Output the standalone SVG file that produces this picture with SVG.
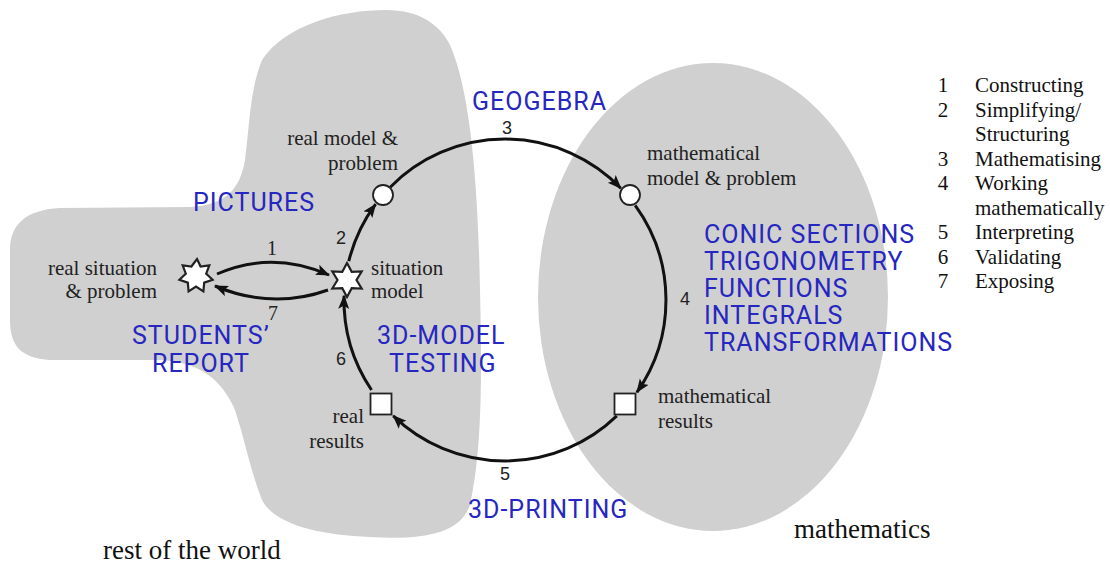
<svg xmlns="http://www.w3.org/2000/svg" width="1110" height="566" viewBox="0 0 1110 566">
<style>
.region{fill:#d0d0d0;stroke:none}
.lbl{font-family:"Liberation Serif","Times New Roman",serif;font-size:21px;fill:#222}
.big{font-family:"Liberation Serif","Times New Roman",serif;font-size:27px;fill:#111}
.blue{font-family:Roboto,"Liberation Sans",Arial,sans-serif;font-size:25px;letter-spacing:1px;fill:#2626c0}
.num{font-family:"Liberation Sans",Arial,sans-serif;font-size:18px;fill:#222}
.nums{font-family:"Liberation Serif","Times New Roman",serif;font-size:20px;fill:#222}
.leg{font-family:"Liberation Serif","Times New Roman",serif;font-size:21px;fill:#111}
.conn{fill:none;stroke:#111;stroke-width:3;marker-end:url(#ah)}
.node{fill:#fff;stroke:#222;stroke-width:1.8}
.starn{fill:#fff;stroke:#222;stroke-width:2.2;stroke-linejoin:miter}
</style>
<defs>
<marker id="ah" markerUnits="userSpaceOnUse" markerWidth="15" markerHeight="12" refX="13" refY="5.5" orient="auto">
<path d="M0,0 L14,5.5 L0,11 L3,5.5 z" fill="#111"/>
</marker>
<polygon id="star7" points="1,-17 4.6,-9.5 13.3,-10.6 10.2,-2.3 16.6,3.8 8.2,6.6 7.4,15.3 0,10.5 -7.4,15.3 -8.2,6.6 -16.6,3.8 -10.2,-2.3 -13.3,-10.6 -4.6,-9.5"/>
<polygon id="star6" points="0,-17 4.75,-8.2 14.7,-8.5 9.5,0 14.7,8.5 4.75,8.2 0,17 -4.75,8.2 -14.7,8.5 -9.5,0 -14.7,-8.5 -4.75,-8.2"/>
</defs>
<rect width="1110" height="566" fill="#fff"/>

<g id="rest-of-world">
<path class="region" d="M386 10 C420 10 440 25 450 45 C470 90 478 180 480 290 C482 380 482 450 470 505 C460 535 420 540 370 537 C320 535 275 525 262 500 C250 470 245 440 235 410 C222 380 200 362 160 360 L50 360 C20 358 10 345 10 320 L10 250 C10 225 25 210 60 208 L190 207 C225 205 240 190 245 160 C250 120 250 90 262 60 C285 25 340 10 386 10 Z"/>
<text class="big" x="103" y="559">rest of the world</text>
</g>
<g id="mathematics">
<ellipse class="region" cx="713" cy="297" rx="175" ry="234"/>
<text class="big" x="794" y="538">mathematics</text>
</g>

<g id="connectors">
<path class="conn" d="M217 274 Q272 250 329 275"/>
<path class="conn" d="M328 290 Q272 310 215 286"/>
<path class="conn" d="M348.8 261.1 A161 161 0 0 1 375.6 204.2"/>
<path class="conn" d="M390.2 187.2 A161 161 0 0 1 620.8 188.2"/>
<path class="conn" d="M635.2 205.4 A161 161 0 0 1 636.9 392.3"/>
<path class="conn" d="M616.8 415.8 A161 161 0 0 1 393.2 415.8"/>
<path class="conn" d="M371.5 390 A161 161 0 0 1 344.05 295.8"/>
<text class="nums" x="272" y="255" text-anchor="middle">1</text>
<text class="num" x="341" y="244" text-anchor="middle">2</text>
<text class="num" x="507" y="134" text-anchor="middle">3</text>
<text class="num" x="685" y="305" text-anchor="middle">4</text>
<text class="num" x="505" y="480" text-anchor="middle">5</text>
<text class="num" x="341" y="365" text-anchor="middle">6</text>
<text class="nums" x="273" y="320" text-anchor="middle">7</text>
</g>

<g id="real-situation">
<use href="#star7" class="starn" x="196" y="276"/>
<text class="lbl" x="157" y="275" text-anchor="end">real situation</text>
<text class="lbl" x="157" y="298" text-anchor="end">&amp; problem</text>
</g>
<g id="situation-model">
<use href="#star6" class="starn" x="347" y="280"/>
<text class="lbl" x="371" y="275">situation</text>
<text class="lbl" x="371" y="298">model</text>
</g>
<g id="real-model">
<circle class="node" cx="383" cy="195" r="10"/>
<text class="lbl" x="398" y="145" text-anchor="end">real model &amp;</text>
<text class="lbl" x="398" y="170" text-anchor="end">problem</text>
</g>
<g id="math-model">
<circle class="node" cx="630" cy="195" r="10"/>
<text class="lbl" x="647" y="160">mathematical</text>
<text class="lbl" x="647" y="185">model &amp; problem</text>
</g>
<g id="math-results">
<rect class="node" x="614.5" y="393.5" width="21" height="21"/>
<text class="lbl" x="658" y="403">mathematical</text>
<text class="lbl" x="658" y="428">results</text>
</g>
<g id="real-results">
<rect class="node" x="370.5" y="393.5" width="21" height="21"/>
<text class="lbl" x="364" y="423" text-anchor="end">real</text>
<text class="lbl" x="364" y="448" text-anchor="end">results</text>
</g>

<g id="blue-labels">
<text class="blue" x="472" y="110">GEOGEBRA</text>
<text class="blue" x="193" y="211">PICTURES</text>
<text class="blue" x="132" y="344">STUDENTS’</text>
<text class="blue" x="152" y="372">REPORT</text>
<text class="blue" x="377" y="344">3D-MODEL</text>
<text class="blue" x="389" y="372">TESTING</text>
<text class="blue" x="468" y="518">3D-PRINTING</text>
<text class="blue" x="704" y="243">CONIC SECTIONS</text>
<text class="blue" x="704" y="270">TRIGONOMETRY</text>
<text class="blue" x="704" y="297">FUNCTIONS</text>
<text class="blue" x="704" y="324">INTEGRALS</text>
<text class="blue" x="704" y="351">TRANSFORMATIONS</text>
</g>

<g id="legend" class="leg">
<text x="943" y="92" text-anchor="middle">1</text><text x="975" y="92">Constructing</text>
<text x="943" y="116.5" text-anchor="middle">2</text><text x="975" y="116.5">Simplifying/</text>
<text x="975" y="141">Structuring</text>
<text x="943" y="165.5" text-anchor="middle">3</text><text x="975" y="165.5">Mathematising</text>
<text x="943" y="190" text-anchor="middle">4</text><text x="975" y="190">Working</text>
<text x="975" y="214.5">mathematically</text>
<text x="943" y="239" text-anchor="middle">5</text><text x="975" y="239">Interpreting</text>
<text x="943" y="263.5" text-anchor="middle">6</text><text x="975" y="263.5">Validating</text>
<text x="943" y="288" text-anchor="middle">7</text><text x="975" y="288">Exposing</text>
</g>
</svg>
